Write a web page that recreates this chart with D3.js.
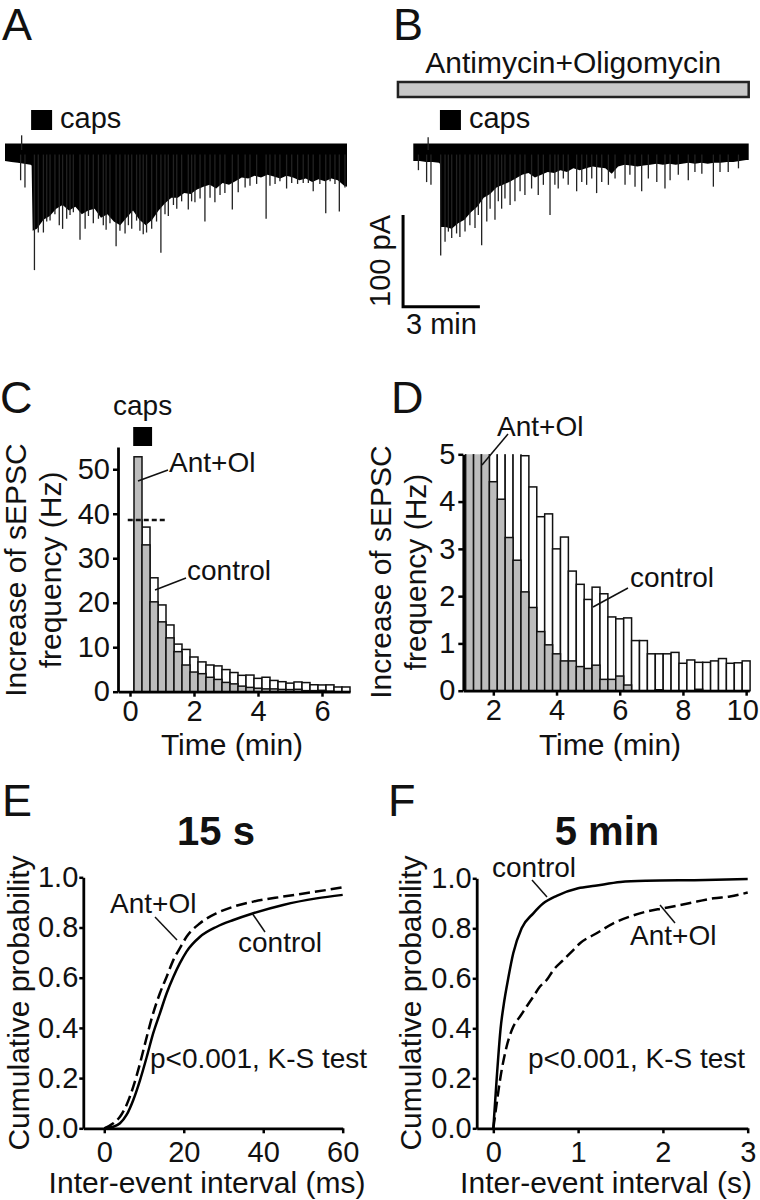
<!DOCTYPE html>
<html><head><meta charset="utf-8">
<script src="https://cdn.jsdelivr.net/npm/d3@7"></script>
<style>
body{margin:0;background:#fff}
svg text{font-family:"Liberation Sans",Arial,Helvetica,sans-serif;fill:#111}
</style>
</head><body>
<svg id="fig" width="760" height="1200"></svg>
<script>
// ---------------- DATA ----------------
// Panels A/B: recorded current traces (time in min, current in pA)
const traceA_time = [0,0.25,0.5,0.75,1.0,1.04,1.08,1.25,1.5,1.75,2.0,2.25,2.5,2.75,3.0,3.25,3.5,3.75,4.0,4.25,4.5,4.75,5.0,5.25,5.5,5.75,6.0,6.25,6.5,6.75,7.0,7.25,7.5,7.75,8.0,8.25,8.5,8.75,9.0,9.25,9.5,9.75,10.0,10.25,10.5,10.75,11.0,11.25,11.5,11.75,12.0,12.25,12.5,12.75,13.0,13.25,13.36];
const traceA_low = [-12,-13,-14,-15,-16,-17,-88,-86,-76,-72,-64,-60,-66,-62,-70,-66,-64,-74,-70,-78,-82,-74,-66,-76,-82,-76,-66,-58,-52,-52,-47,-48,-43,-40,-38,-42,-36,-38,-34,-30,-31,-28,-30,-27,-29,-31,-28,-30,-33,-31,-35,-32,-34,-31,-33,-39,-40];
const spikesA_t = [0.61,0.78,1.15,1.30,1.50,1.63,1.76,1.95,2.12,2.25,2.41,2.54,2.67,2.93,3.13,3.26,3.45,3.65,3.84,3.95,4.10,4.34,4.49,4.69,4.82,4.95,5.14,5.27,5.40,5.53,5.73,5.92,6.09,6.25,6.38,6.58,6.71,6.90,7.16,7.29,7.42,7.62,7.81,8.01,8.20,8.40,8.59,8.88,9.11,9.38,9.57,9.83,10.20,10.35,10.55,10.74,11.0,11.2,11.43,11.65,11.85,12.04,12.3,12.53,12.7,12.89,13.06,13.28];
const spikesA_amp = [-33,-41,-131,-90,-90,-78,-77,-70,-82,-86,-75,-71,-68,-98,-86,-72,-80,-75,-82,-87,-80,-105,-88,-91,-82,-86,-77,-88,-92,-90,-86,-78,-112,-70,-72,-60,-64,-56,-65,-56,-57,-53,-78,-52,-57,-49,-47,-65,-46,-41,-39,-37,-75,-39,-37,-34,-42,-36,-37,-36,-36,-45,-37,-69,-34,-37,-67,-41];
const upA_t = [0.65], upA_amp = [16];

const traceB_time = [0,0.25,0.5,0.75,1.0,1.04,1.08,1.25,1.5,1.75,2.0,2.25,2.5,2.75,3.0,3.25,3.5,3.75,4.0,4.25,4.5,4.75,5.0,5.25,5.5,5.75,6.0,6.25,6.5,6.75,7.0,7.25,7.5,7.75,8.0,8.25,8.5,8.75,9.0,9.25,9.5,9.75,10.0,10.25,10.5,10.75,11.0,11.25,11.5,11.75,12.0,12.25,12.5,12.75,13.0,13.1];
const traceB_low = [-12,-12,-13,-13,-14,-15,-84,-84,-86,-80,-76,-68,-62,-52,-48,-41,-38,-35,-31,-27,-25,-30,-27,-24,-25,-22,-24,-20,-22,-20,-18,-19,-20,-26,-18,-16,-17,-18,-17,-16,-15,-16,-15,-16,-15,-14,-15,-14,-15,-14,-14,-13,-13,-12,-11,-11];
const spikesB_t = [0.2,0.52,0.69,1.07,1.24,1.37,1.50,1.69,1.82,2.02,2.21,2.41,2.54,2.67,2.87,3.0,3.19,3.32,3.45,3.58,3.78,3.97,4.17,4.36,4.62,4.88,5.08,5.34,5.53,5.66,5.86,6.05,6.38,6.58,6.77,6.97,7.16,7.36,7.62,7.88,8.27,8.46,8.66,8.92,9.18,9.51,9.83,10.03,10.35,10.74,11.0,11.27,11.72,11.98,12.3,12.7];
const spikesB_amp = [-22,-35,-38,-115,-100,-89,-96,-91,-95,-89,-82,-85,-71,-104,-78,-64,-76,-56,-64,-53,-60,-56,-45,-49,-42,-49,-38,-71,-38,-42,-31,-38,-45,-35,-38,-31,-47,-35,-38,-31,-38,-27,-40,-45,-31,-35,-42,-33,-27,-33,-24,-26,-40,-24,-24,-20];
const upB_t = [0.58], upB_amp = [14];
const bandTop = 7;                 // pA, upper edge of baseline noise
const capsA = [1.02, 1.84];        // min
const capsB = [1.04, 1.86];        // min
const antOligoB = [-0.6, 13.1];    // min
const scaleBar = {t0: -0.4, pA0: -171, dt: 3, dpA: 100};

// Panels C/D: binned increase of sEPSC frequency (Hz), 15-s bins
const binStart0 = 0.125, binWidth = 0.25;
const controlHz = [38.6,37.0,25.6,19.5,15.0,10.7,9.5,7.8,6.7,6.0,5.8,4.97,4.31,3.68,3.74,3.0,3.25,2.53,2.25,1.93,2.19,2.05,1.56,1.52,1.54,1.06,1.06,0.78,0.78,0.78,0.81,0.58,0.65,0.6,0.6,0.63,0.68,0.58,0.59,0.63];
const antOlHz   = [52.8,33.0,20.2,15.7,12.1,9.0,6.0,4.42,4.05,3.24,2.76,2.09,1.76,1.25,0.97,0.78,0.63,0.63,0.51,0.47,0.54,0.24,0.24,0.31,0.12,0,0,0,0.02,0,0,0,0,0.03,0,0,0,0,0,0];
const capsC = [0.1, 0.69];
const ticksC_x = [0,2,4,6], ticksC_y = [0,10,20,30,40,50];
const ticksD_x = [2,4,6,8,10], ticksD_y = [0,1,2,3,4,5];

// Panels E/F: cumulative probability of inter-event intervals
const eCtrl_x = [0,2.27,3.95,5.6,7.3,9.0,10.7,12.3,14.0,15.7,17.4,19.0,20.7,24.1,28.3,32.5,37.5,45.0,53.4,60];
const eCtrl_y = [0,0.006,0.02,0.053,0.113,0.192,0.285,0.378,0.458,0.538,0.604,0.657,0.704,0.763,0.803,0.83,0.857,0.89,0.916,0.93];
const eAnt_x  = [0,2.27,3.95,5.6,7.3,9.0,10.7,12.3,14.0,15.7,17.4,19.0,20.7,24.1,28.3,32.5,37.5,45.0,53.4,60];
const eAnt_y  = [0,0.02,0.046,0.093,0.166,0.259,0.365,0.458,0.538,0.604,0.671,0.717,0.763,0.817,0.857,0.883,0.903,0.923,0.943,0.96];
const fCtrl_x = [0,0.04,0.086,0.125,0.176,0.235,0.334,0.472,0.59,0.747,1.0,1.2,1.5,1.8,2.5,3.0];
const fCtrl_y = [0,0.2,0.4,0.5,0.6,0.7,0.8,0.86,0.9,0.93,0.96,0.97,0.985,0.99,0.993,0.997];
const fAnt_x  = [0,0.04,0.079,0.157,0.236,0.315,0.393,0.472,0.55,0.629,0.708,0.825,0.943,1.022,1.218,1.415,1.612,1.808,2.005,2.2,2.4,2.6,2.79,3.0];
const fAnt_y  = [0,0.1,0.193,0.327,0.407,0.447,0.487,0.527,0.567,0.593,0.633,0.673,0.713,0.74,0.78,0.82,0.847,0.867,0.88,0.893,0.907,0.92,0.927,0.943];
const ticksE_x = [0,20,40,60], ticksF_x = [0,1,2,3], ticksP = [0,0.2,0.4,0.6,0.8,1.0];

// ---------------- DRAW ----------------
const FS_T = 30;   // axis titles
const FS_K = 29;   // tick labels
const FS_A = 28;   // annotations
const svg = d3.select('#fig');
const INK = '#111';

function txt(x, y, s, o = {}) {
  const t = svg.append('text').attr('x', x).attr('y', y).text(s)
    .attr('font-size', o.size || FS_A).attr('text-anchor', o.anchor || 'start');
  if (o.bold) t.attr('font-weight', 'bold');
  if (o.rot) t.attr('transform', `rotate(-90,${x},${y})`);
  return t;
}
function seg(x1, y1, x2, y2, w = 1.5, dash) {
  const l = svg.append('line').attr('x1', x1).attr('y1', y1).attr('x2', x2).attr('y2', y2)
    .attr('stroke', INK).attr('stroke-width', w);
  if (dash) l.attr('stroke-dasharray', dash);
  return l;
}
function styleAxis(g) {
  g.attr('font-size', FS_K).attr('font-family', '"Liberation Sans",Arial,sans-serif');
  g.select('path.domain').attr('stroke', '#000').attr('stroke-width', 2.8);
  g.selectAll('.tick line').attr('stroke', '#000').attr('stroke-width', 2.5);
  g.selectAll('.tick text').attr('fill', INK);
}

// Panel letters
txt(2, 40, 'A', {size: 45});
txt(393, 40, 'B', {size: 45});
txt(0, 413, 'C', {size: 45});
txt(391, 413, 'D', {size: 45});
txt(2, 816, 'E', {size: 45});
txt(388, 816, 'F', {size: 45});

// ---- Traces A/B ----
const yT = d3.scaleLinear().domain([0, -100]).range([150, 241.7]);
const xA = d3.scaleLinear().domain([0, 13.36]).range([5, 347]);
const xB = d3.scaleLinear().domain([0, 13.1]).range([413.3, 748.7]);

function drawTrace(x, time, low, spT, spA, upT, upA) {
  const g = svg.append('g');
  const area = d3.area().x(i => x(time[i])).y0(yT(bandTop)).y1(i => yT(low[i]));
  g.append('path').attr('d', area(d3.range(time.length))).attr('fill', '#000');
  g.selectAll('line.sp').data(d3.range(spT.length)).join('line')
    .attr('x1', i => x(spT[i])).attr('x2', i => x(spT[i]))
    .attr('y1', yT(-5)).attr('y2', i => yT(spA[i]))
    .attr('stroke', '#222').attr('stroke-width', 1.3);
  g.selectAll('line.up').data(d3.range(upT.length)).join('line')
    .attr('x1', i => x(upT[i])).attr('x2', i => x(upT[i]))
    .attr('y1', yT(0)).attr('y2', i => yT(upA[i]))
    .attr('stroke', '#222').attr('stroke-width', 1.3);
}
drawTrace(xA, traceA_time, traceA_low, spikesA_t, spikesA_amp, upA_t, upA_amp);
drawTrace(xB, traceB_time, traceB_low, spikesB_t, spikesB_amp, upB_t, upB_amp);

// caps markers
svg.append('rect').attr('x', xA(capsA[0])).attr('width', xA(capsA[1]) - xA(capsA[0]))
  .attr('y', 110).attr('height', 20).attr('fill', '#000');
txt(xA(capsA[1]) + 8, 128, 'caps', {size: 29});
svg.append('rect').attr('x', xB(capsB[0])).attr('width', xB(capsB[1]) - xB(capsB[0]))
  .attr('y', 110).attr('height', 20).attr('fill', '#000');
txt(xB(capsB[1]) + 8, 128, 'caps', {size: 29});

// Antimycin+Oligomycin bar
svg.append('rect').attr('x', xB(antOligoB[0])).attr('width', xB(antOligoB[1]) - xB(antOligoB[0]))
  .attr('y', 82).attr('height', 15).attr('fill', '#c8c8c8').attr('stroke', '#222').attr('stroke-width', 2.5);
txt((xB(antOligoB[0]) + xB(antOligoB[1])) / 2, 73, 'Antimycin+Oligomycin', {anchor: 'middle', size: FS_T});

// scale bar
svg.append('path')
  .attr('d', `M${xB(scaleBar.t0)},${yT(scaleBar.pA0 + scaleBar.dpA)}V${yT(scaleBar.pA0)}H${xB(scaleBar.t0 + scaleBar.dt)}`)
  .attr('fill', 'none').attr('stroke', '#000').attr('stroke-width', 3);
txt(390, (yT(scaleBar.pA0 + scaleBar.dpA) + yT(scaleBar.pA0)) / 2, '100 pA', {anchor: 'middle', rot: true, size: 29});
txt((xB(scaleBar.t0) + xB(scaleBar.t0 + scaleBar.dt)) / 2, 334, '3 min', {anchor: 'middle', size: 29});

// ---- Panel C ----
const bins = d3.range(controlHz.length).map(k => binStart0 + k * binWidth);
const xC = d3.scaleLinear().domain([-0.375, 6.875]).range([118, 350]);
const yC = d3.scaleLinear().domain([0, 55]).range([691.7, 447]);
const idxC = d3.range(bins.length).filter(k => bins[k] + binWidth <= 6.876);

function bars(g, x, y, idx, vals, fill) {
  g.selectAll(null).data(idx).join('rect')
    .attr('x', k => x(bins[k])).attr('width', k => x(bins[k] + binWidth) - x(bins[k]))
    .attr('y', k => y(vals[k])).attr('height', k => y(0) - y(vals[k]))
    .attr('fill', fill).attr('stroke', '#111').attr('stroke-width', 1.5);
}
const gC = svg.append('g');
bars(gC, xC, yC, idxC, controlHz, '#fff');
bars(gC, xC, yC, idxC, antOlHz, '#bdbdbd');
seg(xC(-0.07), yC(controlHz[0]), xC(1.18), yC(controlHz[0]), 2.5, '5,3');

const axCy = svg.append('g').attr('transform', `translate(${xC.range()[0]},0)`)
  .call(d3.axisLeft(yC).tickValues(ticksC_y).tickFormat(d3.format('d')).tickSize(5).tickPadding(3).tickSizeOuter(0));
styleAxis(axCy);
const axCx = svg.append('g').attr('transform', `translate(0,${yC(0)})`)
  .call(d3.axisBottom(xC).tickValues(ticksC_x).tickFormat(d3.format('d')).tickSize(5).tickPadding(4).tickSizeOuter(0));
styleAxis(axCx);

svg.append('rect').attr('x', xC(capsC[0])).attr('width', xC(capsC[1]) - xC(capsC[0]))
  .attr('y', 427).attr('height', 19).attr('fill', '#000');
txt((xC(capsC[0]) + xC(capsC[1])) / 2, 415, 'caps', {anchor: 'middle'});
txt(26, 570, 'Increase of sEPSC', {anchor: 'middle', rot: true, size: FS_T});
txt(61, 570, 'frequency (Hz)', {anchor: 'middle', rot: true, size: FS_T});
txt(232, 755, 'Time (min)', {anchor: 'middle', size: FS_T});
seg(138, 481, 168, 470);
txt(169, 472, 'Ant+Ol');
seg(155, 590, 186, 578);
txt(187, 580, 'control');

// ---- Panel D ----
const xD = d3.scaleLinear().domain([1.05, 10.1]).range([463.3, 749.3]);
const yD = d3.scaleLinear().domain([0, 5]).range([690.7, 454.3]);
const idxD = d3.range(bins.length).filter(k => bins[k] >= 1.05);
svg.append('clipPath').attr('id', 'clipD').append('rect')
  .attr('x', 463).attr('y', yD(5)).attr('width', 297).attr('height', yD(0) - yD(5) + 5);
const gD = svg.append('g').attr('clip-path', 'url(#clipD)');
bars(gD, xD, yD, idxD, controlHz, '#fff');
bars(gD, xD, yD, idxD, antOlHz, '#bdbdbd');
const axDy = svg.append('g').attr('transform', `translate(${xD.range()[0]},0)`)
  .call(d3.axisLeft(yD).tickValues(ticksD_y).tickFormat(d3.format('d')).tickSize(5).tickPadding(3).tickSizeOuter(0));
styleAxis(axDy);
const axDx = svg.append('g').attr('transform', `translate(0,${yD(0)})`)
  .call(d3.axisBottom(xD).tickValues(ticksD_x).tickFormat(d3.format('d')).tickSize(5).tickPadding(4).tickSizeOuter(0));
styleAxis(axDx);
axDx.selectAll('.tick text').filter(d => d === 10).attr('dx', -4);
txt(391, 572, 'Increase of sEPSC', {anchor: 'middle', rot: true, size: FS_T});
txt(426, 572, 'frequency (Hz)', {anchor: 'middle', rot: true, size: FS_T});
txt(610, 755, 'Time (min)', {anchor: 'middle', size: FS_T});
seg(508, 434, 482, 465);
txt(497, 436, 'Ant+Ol');
seg(593, 607, 628, 588);
txt(630, 587, 'control');

// ---- Panel E ----
const xE = d3.scaleLinear().domain([-5.28, 60]).range([83.3, 342.7]);
const yE = d3.scaleLinear().domain([0, 1]).range([1128.3, 877.3]);
const lineE = (xs, ys) => d3.line().x(i => xE(xs[i])).y(i => yE(ys[i])).curve(d3.curveMonotoneX)(d3.range(xs.length));
svg.append('path').attr('d', lineE(eCtrl_x, eCtrl_y)).attr('fill', 'none').attr('stroke', '#000').attr('stroke-width', 2.5);
svg.append('path').attr('d', lineE(eAnt_x, eAnt_y)).attr('fill', 'none').attr('stroke', '#000').attr('stroke-width', 2.5).attr('stroke-dasharray', '11,5');
const axEy = svg.append('g').attr('transform', `translate(${xE.range()[0]},0)`)
  .call(d3.axisLeft(yE).tickValues(ticksP).tickFormat(d3.format('.1f')).tickSize(4).tickPadding(1).tickSizeOuter(0));
styleAxis(axEy);
const axEx = svg.append('g').attr('transform', `translate(0,${yE(0)})`)
  .call(d3.axisBottom(xE).tickValues(ticksE_x).tickFormat(d3.format('d')).tickSize(5).tickPadding(8).tickSizeOuter(0));
styleAxis(axEx);
txt(216, 845, '15 s', {anchor: 'middle', bold: true, size: 40});
txt(29, 1003, 'Cumulative probability', {anchor: 'middle', rot: true, size: FS_T});
txt(207, 1193, 'Inter-event interval (ms)', {anchor: 'middle', size: FS_T});
txt(110, 913, 'Ant+Ol');
seg(155, 917, 177, 940);
txt(238, 952, 'control');
seg(252, 913, 265, 932);
txt(150, 1068, 'p<0.001, K-S test');

// ---- Panel F ----
const xF = d3.scaleLinear().domain([-0.196, 3]).range([476.7, 747.7]);
const yF = d3.scaleLinear().domain([0, 1]).range([1128.3, 878.3]);
const lineF = (xs, ys) => d3.line().x(i => xF(xs[i])).y(i => yF(ys[i])).curve(d3.curveMonotoneX)(d3.range(xs.length));
svg.append('path').attr('d', lineF(fCtrl_x, fCtrl_y)).attr('fill', 'none').attr('stroke', '#000').attr('stroke-width', 2.5);
svg.append('path').attr('d', lineF(fAnt_x, fAnt_y)).attr('fill', 'none').attr('stroke', '#000').attr('stroke-width', 2.5).attr('stroke-dasharray', '11,5');
const axFy = svg.append('g').attr('transform', `translate(${xF.range()[0]},0)`)
  .call(d3.axisLeft(yF).tickValues(ticksP).tickFormat(d3.format('.1f')).tickSize(4).tickPadding(1).tickSizeOuter(0));
styleAxis(axFy);
const axFx = svg.append('g').attr('transform', `translate(0,${yF(0)})`)
  .call(d3.axisBottom(xF).tickValues(ticksF_x).tickFormat(d3.format('d')).tickSize(5).tickPadding(8).tickSizeOuter(0));
styleAxis(axFx);
txt(607, 845, '5 min', {anchor: 'middle', bold: true, size: 40});
txt(421, 1003, 'Cumulative probability', {anchor: 'middle', rot: true, size: FS_T});
txt(606, 1193, 'Inter-event interval (s)', {anchor: 'middle', size: FS_T});
txt(492, 877, 'control');
seg(532, 880, 547, 897);
txt(630, 945, 'Ant+Ol');
seg(660, 905, 675, 923);
txt(528, 1068, 'p<0.001, K-S test');
</script>
</body></html>
